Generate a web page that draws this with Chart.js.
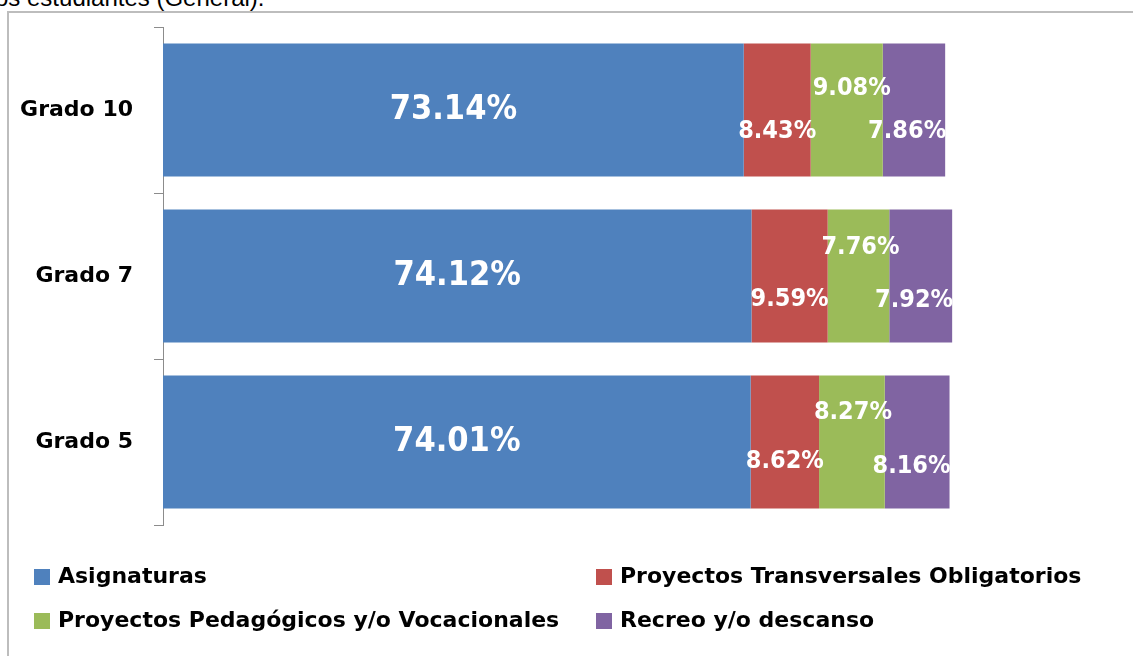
<!DOCTYPE html>
<html>
<head>
<meta charset="utf-8">
<script src="https://cdn.jsdelivr.net/npm/chart.js@4/dist/chart.umd.min.js"></script>
<style>
    body { margin: 0; width: 1133px; height: 656px; overflow: hidden; background: #fff; position: relative; }
    #caption { position: absolute; left: -5px; top: -16px; font: 24px "Liberation Sans", Arial, sans-serif; color: #000; white-space: nowrap; }
    #frame { position: absolute; left: 7px; top: 11px; width: 1300px; height: 800px; border-left: 2px solid #bdbdbd; border-top: 2px solid #bdbdbd; }
    #wrap { position: absolute; left: 0; top: 0; width: 1133px; height: 656px; }
</style>
</head>
<body>
<div id="caption">os estudiantes (General).</div>
<div id="frame"></div>
<div id="wrap"><canvas id="chart"></canvas></div>
<script>
const grados = ['Grado 10', 'Grado 7', 'Grado 5'];
const asignaturas = [73.14, 74.12, 74.01];
const transversales = [8.43, 9.59, 8.62];
const pedagogicos = [9.08, 7.76, 8.27];
const recreo = [7.86, 7.92, 8.16];

// labels were dragged by hand in the original, so each point has its own offset
const labelOffsets = [
    [[0, 0], [0, 0], [0, 0]],
    [[0, 21], [0, 23], [0, 19]],
    [[5, -22], [2, -29], [1, -30]],
    [[1, 21], [1, 24], [1, 24]]
];

const barLabels = {
    id: 'barLabels',
    afterDatasetsDraw(chart) {
        const ctx = chart.ctx;
        ctx.save();
        ctx.fillStyle = '#fff';
        ctx.textBaseline = 'middle';
        chart.data.datasets.forEach((ds, i) => {
            const meta = chart.getDatasetMeta(i);
            meta.data.forEach((bar, j) => {
                const p = bar.getProps(['x', 'y', 'base']);
                const off = labelOffsets[i][j];
                const text = ds.data[j].toFixed(2) + '%';
                // original text is a bit squeezed sideways
                const sx = 0.9;
                ctx.font = i === 0 ? 'bold 34px "DejaVu Sans"' : 'bold 25px "DejaVu Sans"';
                let x = (p.x + p.base) / 2;
                ctx.textAlign = 'center';
                if (i === 3) {
                    x = p.x;
                    ctx.textAlign = 'right';
                }
                ctx.save();
                ctx.translate(x + off[0], p.y + off[1]);
                ctx.scale(sx, 1);
                ctx.fillText(text, 0, 0);
                ctx.restore();
            });
        });
        ctx.restore();
    }
};

const gridLegend = {
    id: 'gridLegend',
    afterDraw(chart) {
        const ctx = chart.ctx;
        const cols = [34, 596];
        const rows = [569, 613];
        ctx.save();
        ctx.font = 'bold 22px "DejaVu Sans"';
        ctx.textBaseline = 'middle';
        ctx.textAlign = 'left';
        chart.data.datasets.forEach((ds, i) => {
            const x = cols[i % 2];
            const y = rows[Math.floor(i / 2)];
            ctx.fillStyle = ds.backgroundColor;
            ctx.fillRect(x, y, 16, 16);
            ctx.fillStyle = '#000';
            ctx.fillText(ds.label, x + 24, y + 8);
        });
        ctx.restore();
    }
};

new Chart(document.getElementById('chart'), {
    type: 'bar',
    data: {
        labels: grados,
        datasets: [
            { label: 'Asignaturas', data: asignaturas, backgroundColor: '#4F81BD' },
            { label: 'Proyectos Transversales Obligatorios', data: transversales, backgroundColor: '#C0504D' },
            { label: 'Proyectos Pedagógicos y/o Vocacionales', data: pedagogicos, backgroundColor: '#9BBB59' },
            { label: 'Recreo y/o descanso', data: recreo, backgroundColor: '#8064A2' }
        ]
    },
    options: {
        indexAxis: 'y',
        responsive: true,
        maintainAspectRatio: false,
        animation: false,
        barPercentage: 1,
        categoryPercentage: 0.8,
        layout: { padding: { top: 27, bottom: 131, right: 176, left: 0 } },
        scales: {
            x: { stacked: true, display: false, min: 0, max: 100 },
            y: {
                stacked: true,
                afterFit(scale) {
                    scale.width = 163;
                    scale.paddingTop = 0;
                    scale.paddingBottom = 0;
                },
                border: { display: true, color: '#8c8c8c', width: 1 },
                grid: { drawOnChartArea: false, drawTicks: true, tickLength: 9, color: '#8c8c8c', offset: true },
                ticks: { padding: 21, color: '#000', font: { family: 'DejaVu Sans', size: 22, weight: 'bold' } }
            }
        },
        plugins: {
            legend: { display: false },
            tooltip: { enabled: false }
        }
    },
    plugins: [barLabels, gridLegend]
});
</script>
</body>
</html>
